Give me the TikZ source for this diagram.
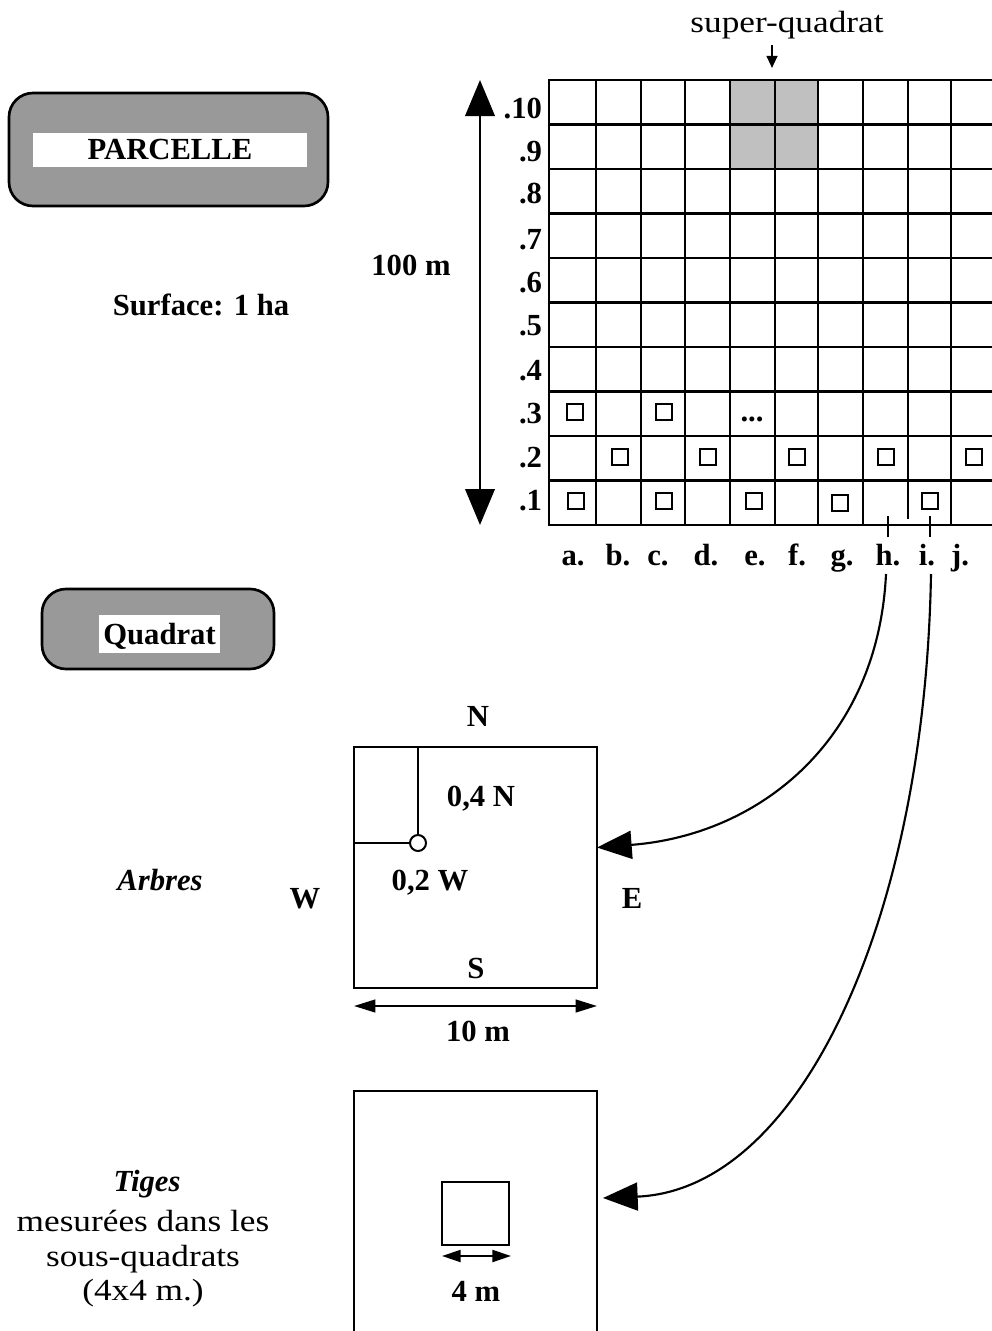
\documentclass[tikz,border=0pt]{standalone}
\usepackage{fontspec}
\setmainfont{Liberation Serif}
\newfontfamily\wideserif[FakeStretch=1.15]{Liberation Serif}
\usetikzlibrary{arrows.meta}
\definecolor{boxgray}{HTML}{999999}
\definecolor{cellgray}{HTML}{C0C0C0}
\begin{document}
\begin{tikzpicture}[x=0.75pt,y=-0.75pt,
  every node/.style={inner sep=0pt, outer sep=0pt},
  bl/.style={font=\fontsize{23}{27}\selectfont\bfseries, text height=15.2pt, text depth=0pt},
  bi/.style={font=\fontsize{23}{27}\selectfont\bfseries\itshape, text height=15.2pt, text depth=0pt},
  rg/.style={font=\fontsize{23}{27}\selectfont\wideserif, text height=15.2pt, text depth=0pt},
  gl/.style={line width=2pt, line cap=rect},
  ssq/.style={draw, line width=1.8pt, minimum size=12pt},
  rbox/.style={draw, line width=2pt, fill=boxgray, rounded corners=18pt},
  wbox/.style={fill=white},
  qsq/.style={draw, line width=1.6pt},
  conn/.style={line width=1.6pt, -{Triangle[length=26pt,width=21pt]}},
  bigdim/.style={line width=2.2pt, {Triangle[length=27pt,width=22pt]}-{Triangle[length=27pt,width=22pt]}},
  smalldim/.style={line width=1.6pt, {Triangle[length=16pt,width=9.5pt]}-{Triangle[length=16pt,width=9.5pt]}}
]
\useasboundingbox (0,0) rectangle (992,1331);

% ---------- PARCELLE box ----------
\node[rbox, minimum width=239.25pt, minimum height=84.75pt] (pbox) at (168.5,149.5) {};
\node[bl, wbox, minimum width=205.5pt, minimum height=25.5pt] (ptxt) at (170,149.5) {PARCELLE};
\node[bl] (surf) at (201,305) {Surface: 1 ha};
\node[bl] (hm) at (411,265) {100 m};

% ---------- grid ----------
\fill[cellgray] (730,80) rectangle (818,169);
\foreach \x in {549,596,641,685,730,775,818,863,951}
  \draw[gl] (\x,80) -- (\x,525);
\draw[gl] (908,80) -- (908,518);
\foreach \k in {0,...,10}
  \draw[gl] (549,{80+44.5*\k}) -- (998,{80+44.5*\k});

% row labels
\foreach \lab/\yy in {.10/108,.9/151,.8/193,.7/239,.6/282,.5/325,.4/370,.3/413,.2/457,.1/500}
  \node[bl, anchor=east] (r\lab) at (542,\yy) {\lab};

% column labels
\foreach \lab/\xx in {a/573,b/618,c/658,d/706,e/755,f/797,g/842,h/888,i/927,j/960}
  \node[bl] (c\lab) at (\xx,555) {\lab.};

% small squares
\node[ssq] (s3a) at (575,412) {};
\node[ssq] (s3c) at (664,412) {};
\node[bl] (dots) at (752,411) {...};
\node[ssq] (s2b) at (620,457) {};
\node[ssq] (s2d) at (708,457) {};
\node[ssq] (s2f) at (797,457) {};
\node[ssq] (s2h) at (886,457) {};
\node[ssq] (s2j) at (974,457) {};
\node[ssq] (s1a) at (576,501) {};
\node[ssq] (s1c) at (664,501) {};
\node[ssq] (s1e) at (754,501) {};
\node[ssq] (s1g) at (840,503) {};
\node[ssq] (s1i) at (930,501) {};

% ticks
\draw[gl, line cap=butt] (888,516) -- (888,537);
\draw[gl, line cap=butt] (930,516) -- (930,537);

% 100 m arrow
\coordinate (vtop) at (480,80);
\coordinate (vbot) at (480,525);
\draw[bigdim] (vtop) -- (vbot);

% super-quadrat
\node[rg] (sq) at (787,22) {super-quadrat};
\coordinate (sqa) at (772,45);
\coordinate (sqb) at (772,68);
\draw[line width=1.5pt, -{Triangle[length=9pt,width=8pt]}] (sqa) -- (sqb);

% ---------- Quadrat box ----------
\node[rbox, minimum width=174pt, minimum height=60pt] (qbox) at (158,629) {};
\node[bl, wbox, minimum width=90.75pt, minimum height=28.5pt] (qtxt) at (159.5,634) {Quadrat};

% ---------- Arbres ----------
\node[bi] (arbres) at (160,880) {Arbres};
\node[qsq, minimum width=182.25pt, minimum height=180.75pt] (arb) at (475.5,867.5) {};
\node[draw, circle, line width=1.5pt, fill=white, minimum size=12pt] (cir) at (418,843) {};
\draw[line width=1.6pt] (cir.north) -- (cir.north |- arb.north);
\draw[line width=1.6pt] (cir.west) -- (cir.west -| arb.west);
\node[bl] (nN) at (478,716) {N};
\node[bl] (n04) at (481,796) {0,4 N};
\node[bl] (n02) at (430,880) {0,2 W};
\node[bl] (nW) at (305,898) {W};
\node[bl] (nE) at (632,898) {E};
\node[bl] (nS) at (476,968) {S};
\draw[smalldim] ([yshift=-13.5pt]arb.south west) -- ([yshift=-13.5pt]arb.south east);
\node[bl] (n10) at (478,1031) {10 m};

% ---------- Tiges ----------
\node[bi] (tiges) at (147,1181) {Tiges};
\node[rg] (t1) at (143,1221) {mesurées dans les};
\node[rg] (t2) at (143,1256) {sous-quadrats};
\node[rg] (t3) at (143,1290) {(4x4 m.)};
\node[qsq, minimum width=182.25pt, minimum height=190.5pt] (tig) at (475.5,1218) {};
\node[qsq, minimum width=50.25pt, minimum height=47.25pt] (sub) at (475.5,1213.5) {};
\draw[line width=1.6pt, {Triangle[length=14pt,width=9pt]}-{Triangle[length=14pt,width=9pt]}]
  ([yshift=-8.25pt]sub.south west) -- ([xshift=1.5pt,yshift=-8.25pt]sub.south east);
\node[bl] (n4) at (476,1291) {4 m};

% ---------- connectors ----------
\coordinate (hc) at (886,574);
\coordinate (ic) at (931,574);
\draw[conn] (hc) .. controls (878,740) and (760,835) .. ([yshift=15pt]arb.east);
\draw[conn] (ic) .. controls (925,920) and (800,1190) .. ([xshift=4.5pt,yshift=15pt]tig.east);
\end{tikzpicture}
\end{document}
